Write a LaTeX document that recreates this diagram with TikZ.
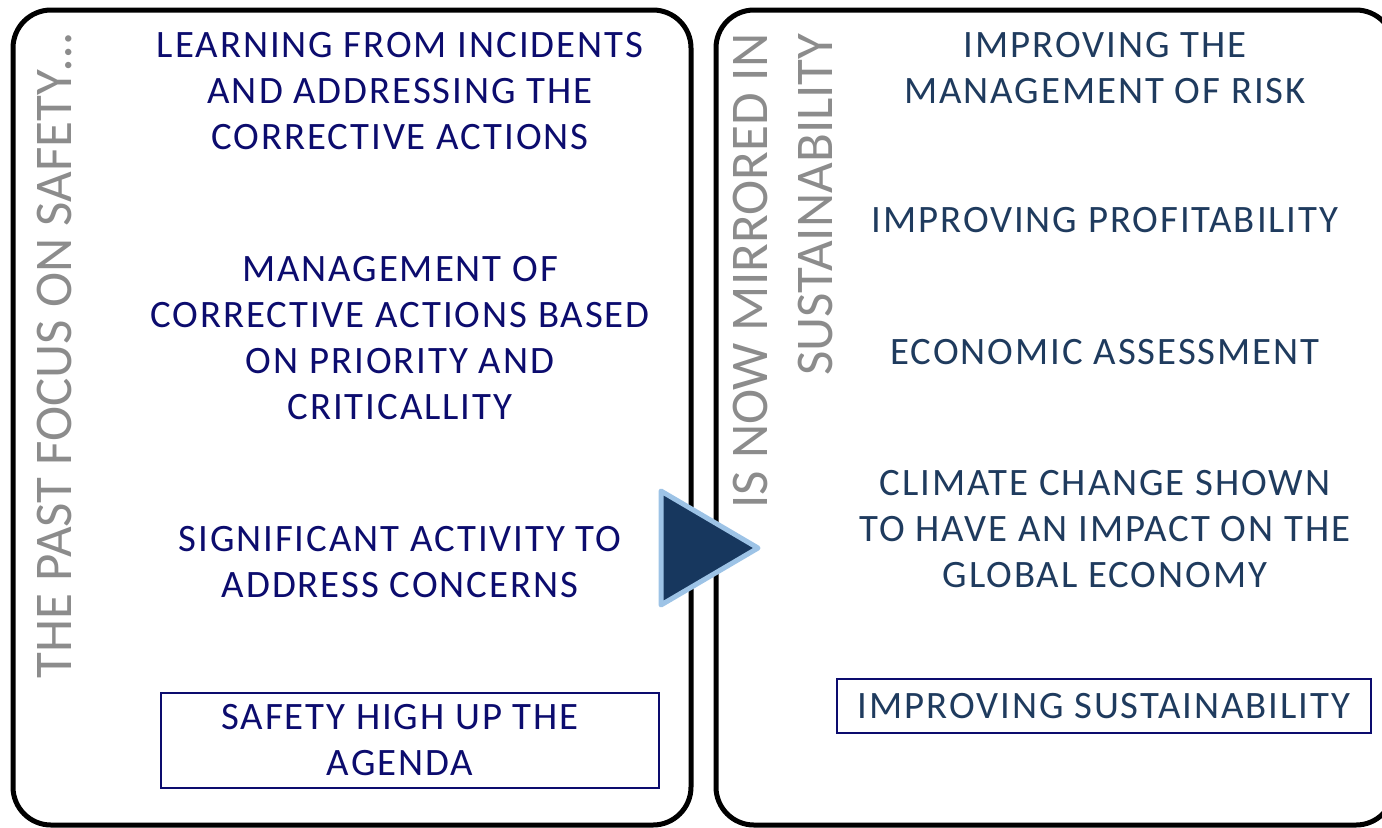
\documentclass[tikz,border=0pt]{standalone}
\usepackage{fontspec}
\setmainfont{Carlito}
\newfontfamily\itemfont{Carlito}[LetterSpace=5]
\usepackage{tikz}
\usetikzlibrary{positioning}
\definecolor{pastblue}{HTML}{0C0C6E}
\definecolor{nowblue}{HTML}{1F3B5E}
\definecolor{headgray}{HTML}{8C8C8C}
\definecolor{arrowfill}{HTML}{17375E}
\definecolor{arrowedge}{HTML}{9DC3E6}
\tikzstyle{panel} = [rectangle, rounded corners=19pt, draw=black, line width=2.5pt]
\tikzstyle{heading} = [rotate=90, anchor=east, inner sep=0pt, align=right, text=headgray, font=\fontsize{26.5}{32.5}\selectfont]
\tikzstyle{pastitem} = [align=center, inner sep=0pt, text=pastblue, font=\itemfont\fontsize{19.4}{23}\selectfont]
\tikzstyle{nowitem} = [align=center, inner sep=0pt, text=nowblue, font=\itemfont\fontsize{19.4}{23}\selectfont]
\tikzstyle{goalframe} = [rectangle, draw=pastblue, line width=1pt, inner sep=0pt]

\begin{document}
\begin{tikzpicture}[x=0.5pt, y=-0.5pt]
        \useasboundingbox (0,0) rectangle (1382,827);

        % the two panels
        \draw [panel] (13,10) rectangle (691,825);
        \draw [panel] (716,10) rectangle (1394,825);

        % headings
        \node (pasthead) [heading] at (55,33) {THE PAST FOCUS ON SAFETY\dots};
        \node (nowhead) [heading] at (783,33) {IS NOW MIRRORED IN\\SUSTAINABILITY};

        % left column
        \node (learning) [pastitem] at (400,91) {LEARNING FROM INCIDENTS\\AND ADDRESSING THE\\CORRECTIVE ACTIONS};
        \node (priority) [pastitem] at (400,338) {MANAGEMENT OF\\CORRECTIVE ACTIONS BASED\\ON PRIORITY AND\\CRITICALLITY};
        \node (activity) [pastitem] at (400,562) {SIGNIFICANT ACTIVITY TO\\ADDRESS CONCERNS};
        \node (safetyframe) [goalframe, minimum width=249pt, minimum height=47.5pt] at (410,740.5) {};
        \node (safety) [pastitem] at (400,740) {SAFETY HIGH UP THE\\AGENDA};

        % right column
        \node (risk) [nowitem] at (1105,68) {IMPROVING THE\\MANAGEMENT OF RISK};
        \node (profit) [nowitem] at (1105,220) {IMPROVING PROFITABILITY};
        \node (economic) [nowitem] at (1105,352) {ECONOMIC ASSESSMENT};
        \node (climate) [nowitem] at (1105,529) {CLIMATE CHANGE SHOWN\\TO HAVE AN IMPACT ON THE\\GLOBAL ECONOMY};
        \node (sustain) [nowitem, goalframe, draw=pastblue, minimum width=267pt, minimum height=27pt] at (1104,706) {IMPROVING SUSTAINABILITY};

        % arrow between panels
        \filldraw [fill=arrowfill, draw=arrowedge, line width=2.5pt, line join=round] (661,491) -- (661,605) -- (758,548) -- cycle;
    \end{tikzpicture}
\end{document}
